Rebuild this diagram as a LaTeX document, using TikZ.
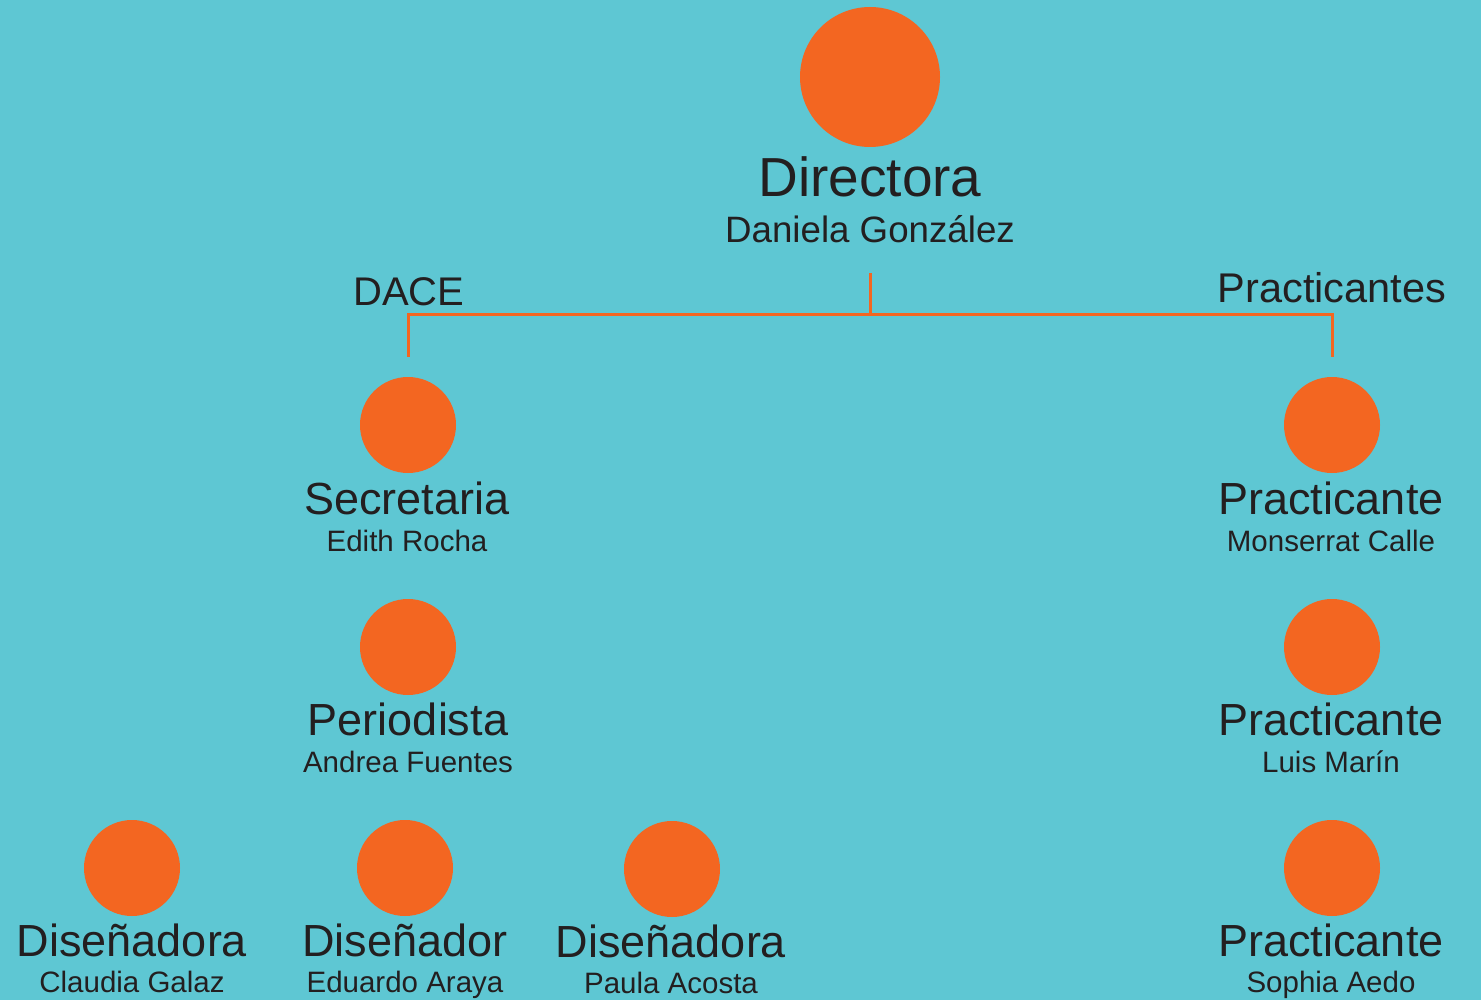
\documentclass[tikz,border=0pt]{standalone}
\usepackage{fontspec}
\setmainfont{Liberation Sans}
\definecolor{bg}{HTML}{5EC7D3}
\definecolor{org}{HTML}{F36621}
\definecolor{ink}{HTML}{231F20}
\begin{document}
\begin{tikzpicture}[x=1pt,y=-1pt,
  dot/.style={circle,fill=org,draw=none,inner sep=0pt},
  bigdot/.style={dot,minimum size=140pt},
  smalldot/.style={dot,minimum size=96pt},
  txt/.style={anchor=base,text=ink,inner sep=0pt},
  role/.style={txt,font=\fontsize{45}{50}\selectfont},
  who/.style={txt,font=\fontsize{29.5}{34}\selectfont},
  link/.style={draw=org,line width=3pt}]
\fill[bg] (0,0) rectangle (1481,1000);
\useasboundingbox (0,0) rectangle (1481,1000);
% director
\node[bigdot] (dir) at (870,77) {};
\node[txt,font=\fontsize{55}{60}\selectfont] (dirr) at (870,197) {Directora};
\node[txt,font=\fontsize{36.7}{40}\selectfont] (dirn) at (870,243) {Daniela González};
% group labels
\node[txt,font=\fontsize{40}{44}\selectfont] (dace) at (409,306) {DACE};
\node[txt,font=\fontsize{41.5}{46}\selectfont] (prac) at (1332,303) {Practicantes};
% connectors
\coordinate (dtop) at (870,273);
\coordinate (bar) at (870,315);
\coordinate (dl) at (408,357);
\coordinate (dr) at (1332,357);
\draw[link] (dtop) -- (bar);
\draw[link] (dl) |- (bar) -| (dr);
% left column
\node[smalldot] (sec) at (408,425) {};
\node[role] (secr) at (407,514) {Secretaria};
\node[who] (secn) at (407,551) {Edith Rocha};
\node[smalldot] (per) at (408,647) {};
\node[role] (perr) at (408,735) {Periodista};
\node[who] (pern) at (408,772) {Andrea Fuentes};
% designers
\node[smalldot] (d1) at (132,868) {};
\node[role] (d1r) at (132,956) {Diseñadora};
\node[who] (d1n) at (132,992) {Claudia Galaz};
\node[smalldot] (d2) at (405,868) {};
\node[role] (d2r) at (405,956) {Diseñador};
\node[who] (d2n) at (405,992) {Eduardo Araya};
\node[smalldot] (d3) at (672,869) {};
\node[role] (d3r) at (671,957) {Diseñadora};
\node[who] (d3n) at (671,993) {Paula Acosta};
% right column
\node[smalldot] (p1) at (1332,425) {};
\node[role] (p1r) at (1331,514) {Practicante};
\node[who] (p1n) at (1331,551) {Monserrat Calle};
\node[smalldot] (p2) at (1332,647) {};
\node[role] (p2r) at (1331,735) {Practicante};
\node[who] (p2n) at (1331,772) {Luis Marín};
\node[smalldot] (p3) at (1332,868) {};
\node[role] (p3r) at (1331,956) {Practicante};
\node[who] (p3n) at (1331,992) {Sophia Aedo};
\end{tikzpicture}
\end{document}
